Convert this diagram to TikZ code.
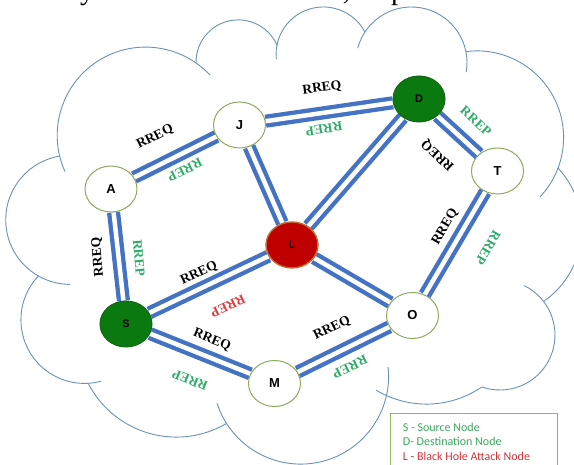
\documentclass[tikz,border=0pt]{standalone}
\usepackage{fontspec}
\setmainfont{Liberation Serif}
\newfontfamily\hostfont{Liberation Sans}
\newfontfamily\legendfont{Carlito}
\usetikzlibrary{shapes.geometric,backgrounds}

\definecolor{cloudblue}{HTML}{6A93B5}
\definecolor{linkblue}{HTML}{4472C4}
\definecolor{hostrim}{HTML}{8EAA5B}
\definecolor{srcgreen}{RGB}{10,122,16}
\definecolor{srcrim}{RGB}{20,100,20}
\definecolor{holered}{RGB}{192,0,0}
\definecolor{holerim}{RGB}{196,110,45}
\definecolor{repgreen}{HTML}{2EAD6A}
\definecolor{repred}{HTML}{E03C3C}
\definecolor{legendrim}{HTML}{8DB860}
\definecolor{leggreen}{HTML}{3CA860}
\definecolor{legred}{HTML}{D0343A}

% one lobe of the cloud: centre x, centre y (measured downwards from the top), radius, start and end angle
\newcommand\cloudlobe[5]{\draw[cloudline] ({#1},{465-#2}) ++(#4:#3) arc[start angle=#4,end angle=#5,radius=#3];}

\tikzset{
  cloudline/.style={draw=cloudblue, line width=0.9pt},
  link/.style={draw=linkblue, line width=4.3pt, double=white, double distance=4.5pt},
  host/.style={ellipse, minimum width=52pt, minimum height=46pt, inner sep=0pt,
    draw=hostrim, line width=1pt, fill=white,
    font=\hostfont\bfseries\fontsize{13}{13}\selectfont},
  source/.style={host, fill=srcgreen, draw=srcrim, font=\hostfont\bfseries\fontsize{11}{11}\selectfont},
  hole/.style={host, fill=holered, draw=holerim, line width=1.4pt, font=\hostfont\bfseries\fontsize{11}{11}\selectfont},
  msg/.style={inner sep=0pt, font=\bfseries\fontsize{13.5}{14}\selectfont},
  req/.style={msg, text=black},
  rep/.style={msg, text=repgreen},
  badrep/.style={msg, text=repred},
  legendline/.style={anchor=base west, inner sep=0pt, font=\legendfont\fontsize{12}{12}\selectfont},
}

\begin{document}
\begin{tikzpicture}[x=1pt, y=1pt]
\useasboundingbox (0,0) rectangle (574,465);

% running text of the page above the figure
\begin{scope}
\clip (0,0) rectangle (574,465);
\node[anchor=base west, inner sep=0pt, font=\fontsize{29}{29}\selectfont] (pagetext) at (-40,465.5)
  {received by the destination node , responds to the};
\end{scope}

% nodes
\node[host]   (A) at (111,276) {A};
\node[host]   (J) at (239.5,340) {J};
\node[source] (D) at (419,366) {D};
\node[host]   (T) at (497.5,294) {T};
\node[hole]   (L) at (292,220) {L};
\node[source] (S) at (126,141) {S};
\node[host]   (O) at (412.5,149.5) {O};
\node[host]   (M) at (274.5,81.5) {M};

\begin{scope}[on background layer]
  \fill[white] (0,0) rectangle (574,465);
  % cloud outline, lobe by lobe
  \cloudlobe{70.3}{219.8}{64.6}{269.7}{99.5}
  \cloudlobe{145.5}{135.4}{88.3}{204.2}{43.1}
  \cloudlobe{238.3}{62.2}{42.3}{181.1}{22.9}
  \cloudlobe{323.3}{54.2}{47.2}{186}{28}
  \cloudlobe{411.4}{62.6}{55.6}{165}{-9.8}
  \cloudlobe{477}{137.5}{86.6}{97.4}{-43.4}
  \cloudlobe{493}{228.5}{88.8}{42.9}{-55.2}
  \cloudlobe{500}{335}{55}{64}{-109.4}
  \cloudlobe{426.5}{306.2}{97.9}{-55.7}{-121}
  \cloudlobe{300.7}{376.2}{87.9}{6}{-162}
  \cloudlobe{176.3}{338}{99.1}{-59.5}{-152.8}
  \cloudlobe{84.5}{319.8}{63.6}{-74.8}{-223.5}
  % links between the nodes
  \draw[link] (A) -- (J);
  \draw[link] (J) -- (D);
  \draw[link] (J) -- (L);
  \draw[link] (D) -- (L);
  \draw[link] (D) -- (T);
  \draw[link] (T) -- (O);
  \draw[link] (O) -- (L);
  \draw[link] (L) -- (S);
  \draw[link] (A) -- (S);
  \draw[link] (S) -- (M);
  \draw[link] (M) -- (O);
\end{scope}

% message labels
\node[req, rotate=26.5]  (qAJ) at (155,328) {RREQ};
\node[rep, rotate=206.5] (pAJ) at (185,295) {RREP};
\node[req, rotate=8.2]   (qJD) at (322,377) {RREQ};
\node[rep, rotate=188.2] (pJD) at (324,336) {RREP};
\node[rep, rotate=-42.5] (pDT) at (476,344) {RREP};
\node[req, rotate=137.5] (qDT) at (438,310) {RREQ};
\node[req, rotate=59.5]  (qTO) at (445,238) {RREQ};
\node[rep, rotate=239.5] (pTO) at (488,217) {RREP};
\node[req, rotate=95]    (qAS) at (98,208) {RREQ};
\node[rep, rotate=275]   (pAS) at (139,207) {RREP};
\node[req, rotate=25.4]  (qSL) at (199,192) {RREQ};
\node[badrep, rotate=205.4] (pSL) at (228,159) {RREP};
\node[req, rotate=-21.8] (qSM) at (212,125) {RREQ};
\node[rep, rotate=158.2] (pSM) at (190,85) {RREP};
\node[req, rotate=26.2]  (qMO) at (332,137) {RREQ};
\node[rep, rotate=206.2] (pMO) at (350,98) {RREP};

% legend
\begin{scope}
\clip (0,0) rectangle (574,465);
\node[draw=legendrim, line width=1.1pt, rectangle, anchor=north west,
      minimum width=166.7pt, minimum height=70pt, inner sep=0pt] (legend) at (390,51.7) {};
\end{scope}
\node[legendline, text=leggreen] (legS) at (402.7,33) {S - Source Node};
\node[legendline, text=leggreen] (legD) at (402.7,19) {D- Destination Node};
\node[legendline, text=legred]   (legL) at (402.7,4.5) {L - Black Hole Attack Node};
\end{tikzpicture}
\end{document}
